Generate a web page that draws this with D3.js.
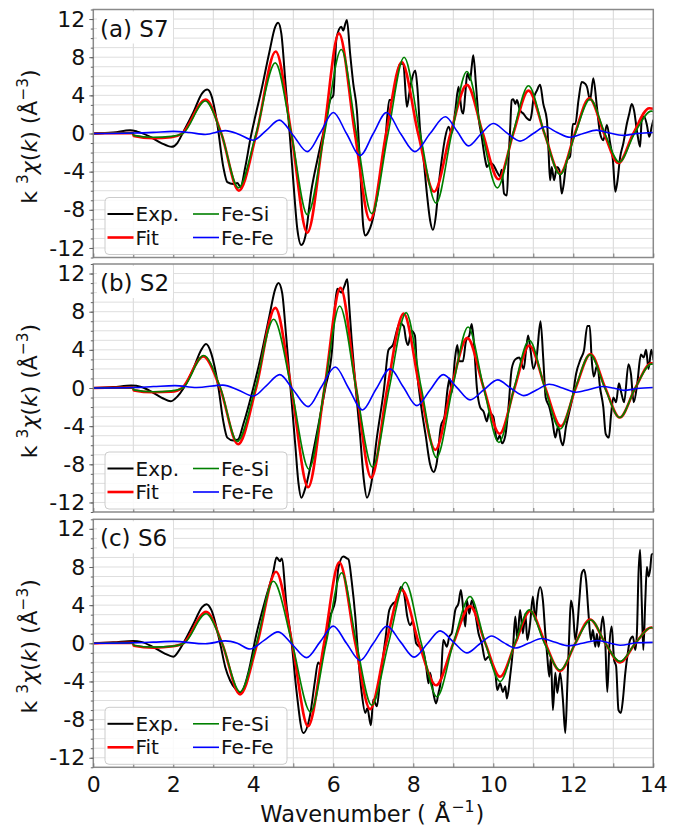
<!DOCTYPE html>
<html><head><meta charset="utf-8">
<script src="https://cdn.jsdelivr.net/npm/d3@7"></script>
<style>body{margin:0;background:#fff}svg{display:block}</style>
</head><body>
<script>
// ---------- DATA ----------
const panelLabels = ["(a) S7", "(b) S2", "(c) S6"];
const seriesNames = ["Exp.", "Fit", "Fe-Si", "Fe-Fe"];
const xTicks = [0, 2, 4, 6, 8, 10, 12, 14];
const yTicks = [-12, -8, -4, 0, 4, 8, 12];

const expA = [[0,0],[0.5,0.1],[0.92,0.35],[1.1,0.2],[1.4,-0.3],[1.7,-1.0],[1.96,-1.4],[2.1,-1.0],[2.23,0],[2.5,2.2],[2.72,4.2],[2.85,4.6],[2.95,4.0],[3.1,1.0],[3.25,-3.5],[3.35,-5.1],[3.5,-5.3],[3.6,-5.2],[3.68,-5.6],[3.8,-3.5],[3.93,-0.5],[4.05,1.8],[4.2,4.5],[4.4,8.5],[4.55,11.2],[4.62,11.6],[4.7,10.5],[4.8,5.5],[4.9,0.5],[5.0,-5],[5.1,-10],[5.2,-11.7],[5.3,-10.8],[5.45,-6],[5.6,-2.8],[5.8,1.0],[5.92,3.5],[6.0,4.0],[6.08,10.0],[6.2,11.2],[6.25,10.8],[6.3,11.5],[6.34,11.9],[6.42,8.4],[6.5,5.2],[6.59,2.4],[6.67,-3.5],[6.75,-9.8],[6.8,-10.7],[6.88,-10.3],[6.96,-9.4],[7.05,-7.7],[7.17,-4.5],[7.3,-0.7],[7.4,3.5],[7.46,3.5],[7.55,5.2],[7.67,7.3],[7.75,7.3],[7.84,2.8],[7.9,4.2],[7.96,5.6],[8.05,6.6],[8.1,4.9],[8.17,0.35],[8.25,-2.4],[8.34,-6.3],[8.42,-9.1],[8.49,-10.1],[8.57,-8.4],[8.63,-5.6],[8.71,-2.8],[8.8,-0.35],[8.88,0.7],[8.96,0],[9.05,2.4],[9.13,4.9],[9.21,2.4],[9.25,2.1],[9.3,4.2],[9.35,6.3],[9.42,5.6],[9.46,7.0],[9.5,8.2],[9.57,4.9],[9.63,1.75],[9.71,-0.35],[9.8,-2.8],[9.84,-3.5],[9.92,-3.1],[10.0,-3.3],[10.09,-4.0],[10.17,-4.5],[10.21,-3.8],[10.27,-6.3],[10.34,-6.5],[10.38,-2.8],[10.42,0.35],[10.46,3.5],[10.5,3.6],[10.55,3.1],[10.59,3.5],[10.63,3.0],[10.67,2.4],[10.75,2.1],[10.84,1.6],[10.92,1.4],[10.96,2.1],[11.0,3.5],[11.09,4.5],[11.17,5.1],[11.25,3.1],[11.34,1.4],[11.38,-1.75],[11.42,-4.9],[11.46,-3.5],[11.52,-4.9],[11.59,-3.5],[11.65,-3.8],[11.71,-6.3],[11.75,-5.6],[11.84,-2.8],[11.92,-2.4],[11.99,1.0],[12.05,1.0],[12.13,3.5],[12.21,5.4],[12.3,5.2],[12.34,4.9],[12.42,3.5],[12.5,5.8],[12.59,2.8],[12.67,0],[12.75,-0.7],[12.84,0.9],[12.92,-1.0],[12.99,-2.8],[13.05,-6.1],[13.1,-5.1],[13.17,-2.5],[13.25,-1.05],[13.34,1.05],[13.4,2.1],[13.46,3.1],[13.52,2.4],[13.59,0.3],[13.67,-1.4],[13.71,1.4],[13.77,1.75],[13.84,0.9],[13.9,-0.35],[13.96,0.7],[14.0,1.4]];
const fitA = [[0,0],[0.99,0.05],[1.01,-0.25],[1.5,-0.5],[1.95,-0.4],[2.22,0],[2.81,3.55],[3.2,0],[3.64,-6.0],[4.08,0],[4.56,8.6],[4.95,0],[5.35,-10.4],[5.76,0],[6.14,10.5],[6.54,0],[6.92,-9.1],[7.32,0],[7.71,7.5],[8.12,0],[8.52,-6.1],[8.93,0],[9.34,5.1],[9.74,0],[10.13,-4.8],[10.5,0],[10.88,4.5],[11.28,0],[11.67,-4.2],[12.04,0],[12.4,3.7],[12.77,0],[13.13,-3.1],[13.5,0],[13.9,2.65],[14,2.6]];
const feSiA = [[0,0],[0.99,0.05],[1.01,-0.2],[1.5,-0.4],[1.95,-0.3],[2.24,0],[2.8,3.4],[3.2,0],[3.63,-5.7],[4.07,0],[4.55,7.4],[4.95,0],[5.35,-8.5],[5.78,0],[6.2,8.8],[6.58,0],[6.96,-8.4],[7.37,0],[7.77,8.0],[8.17,0],[8.57,-7.3],[8.96,0],[9.34,6.5],[9.72,0],[10.1,-5.7],[10.49,0],[10.88,5.0],[11.28,0],[11.67,-4.3],[12.05,0],[12.42,3.6],[12.79,0],[13.15,-3.0],[13.53,0],[13.95,2.35],[14,2.3]];
const feFeA = [[0,0],[1.0,0.05],[1.5,0.12],[2.0,0.22],[2.4,0.1],[2.8,-0.1],[3.3,0.3],[3.65,-0.1],[4.0,-0.7],[4.32,0.3],[4.65,1.4],[5.0,-0.2],[5.35,-1.9],[5.68,0.1],[6.0,2.2],[6.33,0],[6.67,-2.3],[7.0,0],[7.33,2.2],[7.68,0],[8.04,-1.9],[8.42,0],[8.8,1.75],[9.1,0.2],[9.38,-1.3],[9.7,0],[10.0,1.05],[10.33,0.1],[10.67,-0.8],[11.0,0],[11.3,0.7],[11.6,0.1],[11.92,-0.4],[12.25,0],[12.58,0.35],[12.9,0.05],[13.25,-0.2],[13.6,0],[14,0.1]];

const expB = [[0,0],[0.5,0.1],[0.95,0.25],[1.2,0.1],[1.5,-0.5],[1.75,-1.1],[1.93,-1.4],[2.1,-0.9],[2.26,0],[2.5,2.0],[2.7,4.0],[2.82,4.6],[2.95,3.6],[3.13,0],[3.25,-3.5],[3.35,-5.2],[3.5,-5.5],[3.62,-5.4],[3.75,-3.8],[4.0,0],[4.2,3.5],[4.4,7.5],[4.55,10.4],[4.63,11.0],[4.72,10.0],[4.82,5.5],[4.93,0],[5.05,-6],[5.13,-10],[5.2,-11.5],[5.3,-10.5],[5.53,-6],[5.8,0],[5.97,4],[6.05,9.0],[6.1,10.4],[6.2,10.0],[6.27,10.6],[6.35,11.4],[6.4,8.5],[6.46,5],[6.56,0],[6.67,-5],[6.76,-9.5],[6.84,-11.5],[6.95,-10],[7.08,-5.5],[7.27,0],[7.38,4.0],[7.49,4.5],[7.66,6.8],[7.76,6.5],[7.82,5],[7.87,4.5],[7.95,6],[8.04,5.5],[8.09,2],[8.2,-2],[8.31,-5],[8.42,-8],[8.51,-8.8],[8.58,-8],[8.69,-4],[8.78,-3],[8.86,0],[8.91,1.0],[8.96,-0.5],[9.04,3],[9.1,4.5],[9.15,2.8],[9.24,2.8],[9.32,5],[9.4,5.5],[9.46,6.7],[9.51,5],[9.59,0],[9.67,-2],[9.76,-2.5],[9.84,-3.5],[9.89,-2.6],[10.0,-3.0],[10.09,-5.5],[10.16,-5.0],[10.22,-5.8],[10.3,-5],[10.38,-2],[10.46,2],[10.55,3.0],[10.65,3.2],[10.76,2],[10.82,4],[10.87,5.5],[10.93,4],[11.0,2],[11.09,3.5],[11.18,7.0],[11.25,3],[11.31,-1],[11.4,-2],[11.48,-3.5],[11.55,-5.2],[11.62,-4],[11.69,-5.5],[11.74,-6.0],[11.82,-4],[11.9,-2.5],[11.98,-1.0],[12.07,1.5],[12.18,3.0],[12.27,4.0],[12.35,6.5],[12.41,6.5],[12.46,3.0],[12.51,1.2],[12.6,2.4],[12.67,0],[12.75,-2.0],[12.81,-4.8],[12.89,-5.2],[12.94,-3],[13.0,-1],[13.07,-1.5],[13.14,0.5],[13.2,-0.5],[13.27,-1.5],[13.38,2.5],[13.44,1.5],[13.51,-1.5],[13.6,0.5],[13.69,3.5],[13.76,3.2],[13.82,4.0],[13.88,2.0],[13.95,4.0],[14,3]];
const fitB = [[0,0],[0.99,0.05],[1.01,-0.25],[1.5,-0.45],[1.95,-0.4],[2.22,0],[2.75,3.3],[3.17,0],[3.62,-5.9],[4.07,0],[4.55,8.4],[4.95,0],[5.37,-10.4],[5.78,0],[6.18,10.5],[6.57,0],[6.95,-9.4],[7.35,0],[7.76,7.8],[8.16,0],[8.55,-6.5],[8.95,0],[9.35,5.25],[9.76,0],[10.16,-4.8],[10.53,0],[10.9,4.45],[11.3,0],[11.69,-4.0],[12.06,0],[12.43,3.55],[12.8,0],[13.16,-3.1],[13.55,0],[13.95,2.6],[14,2.6]];
const feSiB = [[0,0],[0.99,0.05],[1.01,-0.2],[1.5,-0.4],[1.95,-0.3],[2.24,0],[2.76,3.4],[3.18,0],[3.6,-5.6],[4.05,0],[4.51,7.2],[4.95,0],[5.39,-8.5],[5.78,0],[6.16,8.6],[6.57,0],[6.98,-8.3],[7.4,0],[7.82,7.9],[8.2,0],[8.58,-7.3],[8.98,0],[9.37,6.4],[9.76,0],[10.14,-5.7],[10.52,0],[10.9,5.0],[11.29,0],[11.67,-4.3],[12.05,0],[12.42,3.5],[12.79,0],[13.16,-3.1],[13.55,0],[13.95,2.5],[14,2.5]];
const feFeB = [[0,0],[1.0,0.05],[1.5,0.15],[2.04,0.25],[2.58,0.05],[3.24,0.3],[3.62,-0.2],[4.0,-0.85],[4.33,0.25],[4.66,1.4],[5.0,-0.2],[5.37,-1.95],[5.7,0.1],[6.05,2.2],[6.38,0],[6.73,-2.3],[7.07,-0.1],[7.42,2.0],[7.75,0.1],[8.09,-1.85],[8.42,-0.2],[8.75,1.4],[9.08,0.1],[9.42,-1.25],[9.76,-0.2],[10.11,0.85],[10.43,0],[10.76,-0.8],[11.08,-0.2],[11.4,0.4],[11.73,0],[12.07,-0.45],[12.4,-0.15],[12.73,0.15],[13.0,0],[13.27,-0.25],[13.6,-0.05],[14,0.05]];

const expC = [[0,0],[0.5,0.1],[1.0,0.25],[1.2,0.15],[1.5,-0.4],[1.8,-1.1],[2.0,-1.4],[2.12,-0.9],[2.25,0],[2.5,2.0],[2.72,3.8],[2.83,4.1],[2.95,3.5],[3.17,0],[3.3,-2.5],[3.42,-3.9],[3.58,-4.9],[3.67,-5.2],[3.78,-4.5],[3.88,-3],[4.08,1],[4.33,5],[4.5,7.5],[4.58,9.0],[4.67,8.6],[4.71,8.9],[4.83,4],[4.96,0],[5.08,-5],[5.25,-9.4],[5.42,-7.5],[5.54,-4],[5.62,-2],[5.67,-2.2],[5.79,0],[5.92,2.8],[6.05,4.5],[6.13,8.0],[6.25,9.1],[6.34,8.9],[6.38,8.8],[6.46,6.5],[6.55,2.8],[6.63,-1.75],[6.71,-5.2],[6.8,-7.3],[6.85,-6.8],[6.94,-8.6],[7.0,-5.9],[7.09,-6.6],[7.17,-3.8],[7.3,0.35],[7.4,3.5],[7.5,4.2],[7.59,4.5],[7.69,5.9],[7.77,5.2],[7.85,2.8],[7.92,1.9],[7.99,2.3],[8.07,0],[8.15,-0.35],[8.24,-0.7],[8.32,-2.4],[8.38,-4.2],[8.42,-3.1],[8.5,-5.2],[8.57,-6.3],[8.63,-5.2],[8.69,-3.8],[8.75,0.35],[8.84,-0.35],[8.9,0.7],[8.96,1.05],[9.05,3.5],[9.13,4.2],[9.19,5.6],[9.25,3.5],[9.3,1.75],[9.34,4.5],[9.4,3.1],[9.46,4.5],[9.55,3.1],[9.63,1.05],[9.71,0],[9.8,-1.75],[9.88,-1.4],[9.96,-2.1],[10.05,-3.1],[10.1,-4.9],[10.17,-4.2],[10.24,-5.1],[10.3,-4.5],[10.34,-5.8],[10.42,-3.5],[10.49,-0.7],[10.55,2.8],[10.6,0.35],[10.67,3.5],[10.74,1.05],[10.8,3.1],[10.85,0.35],[10.92,2.1],[10.99,4.9],[11.05,2.4],[11.1,4.5],[11.17,5.9],[11.24,4.5],[11.3,1.05],[11.35,-1.4],[11.4,-3.5],[11.44,-1.4],[11.49,-7.0],[11.55,-3.1],[11.6,-5.2],[11.67,-3.1],[11.74,-5.9],[11.8,-9.4],[11.85,-4.5],[11.9,1.05],[11.94,4.5],[11.99,3.5],[12.05,0.35],[12.1,1.75],[12.15,4.5],[12.21,7.3],[12.27,7.7],[12.32,6.6],[12.38,3.1],[12.44,0.35],[12.49,1.4],[12.55,-0.35],[12.59,1.0],[12.63,-0.35],[12.67,0.7],[12.74,2.8],[12.8,0],[12.85,-5.1],[12.9,-0.35],[12.96,1.75],[13.02,-1.75],[13.07,-2.4],[13.13,-7.0],[13.19,-7.3],[13.24,-5.9],[13.3,-3.1],[13.35,-1.4],[13.42,0.35],[13.49,0.7],[13.55,-0.7],[13.59,1.05],[13.63,7.3],[13.67,9.8],[13.71,4.5],[13.75,-0.7],[13.8,4.5],[13.84,8.0],[13.88,7.0],[13.92,7.7],[13.96,9.3],[14,9.4]];
const fitC = [[0,0],[0.99,0.05],[1.01,-0.25],[1.5,-0.45],[2.0,-0.3],[2.25,0],[2.82,3.3],[3.22,0],[3.67,-5.35],[4.1,0],[4.57,7.5],[4.97,0],[5.37,-8.7],[5.77,0],[6.15,8.5],[6.55,0],[6.92,-6.9],[7.32,0],[7.71,5.6],[8.14,0],[8.57,-4.4],[9.0,0],[9.42,3.9],[9.8,0],[10.17,-3.5],[10.55,0],[10.92,3.4],[11.3,0],[11.67,-2.9],[12.05,0],[12.42,2.5],[12.8,0],[13.17,-2.0],[13.55,0],[13.95,1.65],[14,1.6]];
const feSiC = [[0,0],[0.99,0.05],[1.01,-0.2],[1.5,-0.4],[2.0,-0.3],[2.27,0],[2.82,3.1],[3.22,0],[3.67,-5.1],[4.08,0],[4.5,6.5],[4.97,0],[5.43,-7.2],[5.82,0],[6.21,7.4],[6.58,0],[6.96,-6.5],[7.38,0],[7.8,6.4],[8.2,0],[8.59,-5.6],[9.0,0],[9.42,4.9],[9.8,0],[10.17,-4.0],[10.54,0],[10.9,3.5],[11.28,0],[11.67,-2.8],[12.05,0],[12.44,2.45],[12.8,0],[13.17,-1.9],[13.55,0],[13.95,1.65],[14,1.6]];
const feFeC = [[0,0],[1.0,0.05],[1.5,0.12],[2.0,0.2],[2.8,-0.05],[3.3,0.25],[3.6,0],[3.92,-0.6],[4.27,0.3],[4.62,1.2],[4.98,-0.15],[5.33,-1.5],[5.67,0.15],[6.0,1.8],[6.33,0],[6.67,-1.8],[7.0,0],[7.34,1.8],[7.68,0.15],[8.02,-1.45],[8.35,-0.05],[8.67,1.3],[9.0,0.15],[9.34,-1.0],[9.65,-0.1],[9.96,0.77],[10.25,0.1],[10.55,-0.5],[10.88,0],[11.21,0.5],[11.55,0.1],[11.88,-0.25],[12.23,0],[12.59,0.3],[12.88,0.05],[13.17,-0.2],[13.6,0.05],[14,0.1]];

const panels = [
  {label: panelLabels[0], series: [expA, fitA, feSiA, feFeA]},
  {label: panelLabels[1], series: [expB, fitB, feSiB, feFeB]},
  {label: panelLabels[2], series: [expC, fitC, feSiC, feFeC]}
];

// ---------- STYLE / LAYOUT ----------
const W = 684, H = 827;
const L = 93.3, R = 653.3, PH = 248;
const tops = [9.5, 264, 519.3];
const colors = ["#000000", "#ff0000", "#008000", "#0000ff"];
const widths = [2, 2.6, 1.6, 1.6];
const FONT = "DejaVu Sans";

const svg = d3.select("body").append("svg").attr("width", W).attr("height", H)
  .style("font-family", FONT);
svg.append("rect").attr("width", W).attr("height", H).attr("fill", "#fff");

const x = d3.scaleLinear().domain([0, 14]).range([L, R]);

function richText(sel, parts, size) {
  let shift = 0;
  parts.forEach(p => {
    const ts = sel.append("tspan").text(p.t);
    const target = p.sup ? -size * 0.42 : 0;
    if (target !== shift) { ts.attr("dy", target - shift); shift = target; }
    if (p.sup) ts.attr("font-size", size * 0.7);
    if (p.it) ts.attr("font-style", "italic");
    if (p.dx) ts.attr("dx", p.dx);
  });
}

panels.forEach((p, i) => {
  const top = tops[i];
  const y = d3.scaleLinear().domain([-13, 13]).range([top + PH, top]);
  const g = svg.append("g");
  const clipId = "clip" + i;
  svg.append("clipPath").attr("id", clipId).append("rect")
    .attr("x", L).attr("y", top).attr("width", R - L).attr("height", PH);

  // grid
  g.append("g").selectAll("line").data(d3.range(1, 14)).join("line")
    .attr("x1", d => x(d)).attr("x2", d => x(d)).attr("y1", top).attr("y2", top + PH)
    .attr("stroke", "#d6d6d6").attr("stroke-width", 1);
  g.append("g").selectAll("line").data(d3.range(-12, 13)).join("line")
    .attr("x1", L).attr("x2", R).attr("y1", d => y(d)).attr("y2", d => y(d))
    .attr("stroke", "#dedede").attr("stroke-width", 1);

  // series
  const line = d3.line().x(d => x(d[0])).y(d => y(d[1])).curve(d3.curveMonotoneX);
  const sg = g.append("g").attr("clip-path", `url(#${clipId})`);
  p.series.forEach((s, j) => {
    sg.append("path").datum(s).attr("d", line).attr("fill", "none")
      .attr("stroke", colors[j]).attr("stroke-width", widths[j])
      .attr("stroke-linejoin", "round").attr("stroke-linecap", "round");
  });

  // frame
  g.append("rect").attr("x", L).attr("y", top).attr("width", R - L).attr("height", PH)
    .attr("fill", "none").attr("stroke", "#8a8a8a").attr("stroke-width", 1.5);

  // y axis
  const yAxis = d3.axisLeft(y).tickValues(yTicks).tickFormat(d => String(d))
    .tickSize(4).tickPadding(4);
  const ya = g.append("g").attr("transform", `translate(${L},0)`).call(yAxis);
  ya.select(".domain").remove();
  ya.selectAll("line").attr("stroke", "#666");
  ya.selectAll("text").attr("font-size", 22).attr("font-family", FONT).attr("fill", "#111");
  const yMinor = d3.axisLeft(y).tickValues(d3.range(-13, 14)).tickFormat("").tickSize(2.5);
  const ym = g.append("g").attr("transform", `translate(${L},0)`).call(yMinor);
  ym.select(".domain").remove();
  ym.selectAll("line").attr("stroke", "#666");

  // x ticks (inward), labels only on bottom panel
  const xAxis = d3.axisBottom(x).tickValues(d3.range(0, 15)).tickSize(-4)
    .tickFormat(d => (i === 2 && xTicks.includes(d)) ? String(d) : "").tickPadding(9);
  const xa = g.append("g").attr("transform", `translate(0,${top + PH})`).call(xAxis);
  xa.select(".domain").remove();
  xa.selectAll("line").attr("stroke", "#777");
  xa.selectAll("text").attr("font-size", 22).attr("font-family", FONT).attr("fill", "#111");

  // panel label with white box
  g.append("rect").attr("x", 97).attr("y", top + 2).attr("width", 76).attr("height", 32)
    .attr("fill", "#fff");
  g.append("text").attr("x", 100).attr("y", top + 27).attr("font-size", 23)
    .attr("fill", "#111").text(p.label);

  // legend
  const lg = g.append("g");
  lg.append("rect").attr("x", 105).attr("y", top + 188).attr("width", 182).attr("height", 57)
    .attr("rx", 4).attr("fill", "#fff").attr("fill-opacity", 0.85)
    .attr("stroke", "#cccccc").attr("stroke-width", 1);
  const rowY = [top + 204.5, top + 228];
  const cols = [{cx: 107.5, n: [0, 1]}, {cx: 193, n: [2, 3]}];
  cols.forEach(c => {
    c.n.forEach((n, r) => {
      lg.append("line").attr("x1", c.cx).attr("x2", c.cx + 26)
        .attr("y1", rowY[r]).attr("y2", rowY[r])
        .attr("stroke", colors[n]).attr("stroke-width", widths[n]);
      lg.append("text").attr("font-size", 20).attr("fill", "#111")
        .attr("x", c.cx + 28).attr("y", rowY[r] + 7).text(seriesNames[n]);
    });
  });

  // y label
  const cy = top + PH / 2 + 3;
  const yl = svg.append("text").attr("transform", `translate(37,${cy}) rotate(-90)`)
    .attr("text-anchor", "middle").attr("font-size", 22).attr("fill", "#111");
  richText(yl, [
    {t: "k "}, {t: "3", sup: true}, {t: "χ", it: true}, {t: "("}, {t: "k", it: true},
    {t: ") (Å"}, {t: "−3", sup: true}, {t: ")"}
  ], 22);
});

// x label
const xl = svg.append("text").attr("x", (L + R) / 2 - 1).attr("y", 821.5)
  .attr("text-anchor", "middle").attr("font-size", 22.5).attr("fill", "#111");
richText(xl, [{t: "Wavenumber ("}, {t: "Å", dx: 9}, {t: "−1", sup: true, dx: 1}, {t: ")", dx: 1}], 22.5);
</script>
</body></html>
